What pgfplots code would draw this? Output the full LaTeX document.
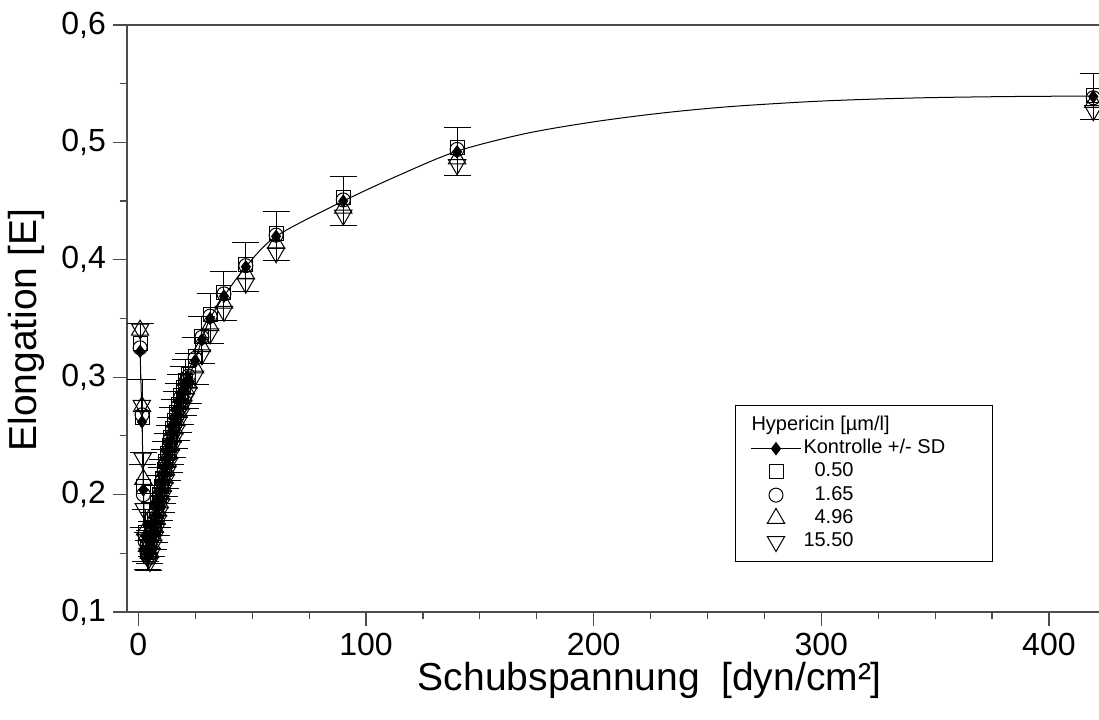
\documentclass[border=0pt]{standalone}
\usepackage{fontspec}
\setmainfont{Liberation Sans}
\usepackage{pgfplots}
\pgfplotsset{compat=1.18}
\usepackage{pgfplotstable}

\pgfplotstableread{
x y e
0.75 0.322 0.024
1.6 0.262 0.036
2.2 0.204 0.032
3.0 0.165 0.022
3.8 0.152 0.016
4.6 0.148 0.013
5.1 0.155 0.014
5.8 0.162 0.015
6.5 0.169 0.016
7.2 0.176 0.017
7.9 0.183 0.018
8.6 0.190 0.018
9.3 0.197 0.019
10.0 0.204 0.019
10.7 0.211 0.019
11.4 0.218 0.020
12.1 0.225 0.020
12.8 0.232 0.020
13.5 0.239 0.020
14.2 0.246 0.020
15.0 0.253 0.021
15.8 0.260 0.021
16.7 0.267 0.021
17.6 0.274 0.021
18.6 0.281 0.021
19.7 0.288 0.021
20.8 0.294 0.021
22.0 0.299 0.021
24.9 0.314 0.020
27.9 0.332 0.020
31.5 0.350 0.021
37.6 0.369 0.021
47.2 0.394 0.021
60.5 0.420 0.021
90.0 0.450 0.021
140.0 0.492 0.0205
419.5 0.539 0.0195
}\kontrolle

\pgfplotstableread{
x y
0.75 0.329
1.6 0.266
2.2 0.207
3.0 0.168
3.8 0.155
4.6 0.151
5.1 0.158
5.8 0.165
6.5 0.172
7.2 0.179
7.9 0.186
8.6 0.193
9.3 0.200
10.0 0.207
10.7 0.214
11.4 0.221
12.1 0.228
12.8 0.235
13.5 0.242
14.2 0.249
15.0 0.256
15.8 0.263
16.7 0.270
17.6 0.277
18.6 0.284
19.7 0.291
20.8 0.297
22.0 0.302
24.9 0.318
27.9 0.335
31.5 0.353
37.6 0.372
47.2 0.396
60.5 0.422
90.0 0.453
140.0 0.496
419.5 0.540
}\sqA

\pgfplotstableread{
x y
0.75 0.325
1.6 0.268
2.2 0.200
3.0 0.160
3.8 0.150
4.6 0.146
5.1 0.156
5.8 0.164
6.5 0.171
7.2 0.178
7.9 0.185
8.6 0.192
9.3 0.199
10.0 0.206
10.7 0.213
11.4 0.220
12.1 0.227
12.8 0.234
13.5 0.241
14.2 0.248
15.0 0.255
15.8 0.262
16.7 0.269
17.6 0.276
18.6 0.283
19.7 0.290
20.8 0.296
22.0 0.301
24.9 0.316
27.9 0.334
31.5 0.352
37.6 0.371
47.2 0.395
60.5 0.421
90.0 0.451
140.0 0.494
419.5 0.538
}\ciB

\pgfplotstableread{
x y
0.75 0.340
1.6 0.275
2.2 0.213
3.0 0.170
3.8 0.156
4.6 0.150
5.1 0.151
5.8 0.158
6.5 0.165
7.2 0.172
7.9 0.179
8.6 0.186
9.3 0.193
10.0 0.200
10.7 0.207
11.4 0.214
12.1 0.221
12.8 0.228
13.5 0.235
14.2 0.242
15.0 0.249
15.8 0.256
16.7 0.263
17.6 0.270
18.6 0.277
19.7 0.284
20.8 0.290
22.0 0.295
24.9 0.308
27.9 0.326
31.5 0.344
37.6 0.363
47.2 0.388
60.5 0.414
90.0 0.444
140.0 0.486
419.5 0.534
}\trC

\pgfplotstableread{
x y
0.8 0.341
1.5 0.276
1.9 0.231
2.4 0.188
3.2 0.162
4.0 0.150
4.8 0.146
5.1 0.143
5.8 0.150
6.5 0.157
7.2 0.164
7.9 0.171
8.6 0.178
9.3 0.185
10.0 0.192
10.7 0.199
11.4 0.206
12.1 0.213
12.8 0.220
13.5 0.227
14.2 0.234
15.0 0.241
15.8 0.248
16.7 0.255
17.6 0.262
18.6 0.269
19.7 0.276
20.8 0.282
22.0 0.287
24.9 0.301
27.9 0.319
31.5 0.337
37.6 0.356
47.2 0.380
60.5 0.406
90.0 0.438
140.0 0.481
419.5 0.527
}\trD

\begin{document}
\begin{tikzpicture}
\begin{axis}[
  scale only axis, width=486pt, height=293.5pt,
  xmin=-5, xmax=422, ymin=0.1, ymax=0.6,
  separate axis lines,
  axis x line*=box, axis y line*=left,
  axis line style={black!70, line width=0.75pt},
  xtick={0,100,200,300,400}, minor x tick num=3,
  ytick={0.1,0.2,0.3,0.4,0.5,0.6}, minor y tick num=1,
  xtick pos=bottom, ytick pos=left,
  tick align=outside,
  major tick length=7pt, minor tick length=3.5pt,
  every tick/.style={black!70, line width=0.6pt},
  /pgf/number format/assume math mode=true,
  tick label style={font=\fontsize{16}{19}\selectfont},
  yticklabel style={/pgf/number format/.cd, fixed, fixed zerofill, precision=1, use comma},
  xticklabel style={/pgf/number format/.cd, fixed},
  label style={font=\fontsize{19.5}{23}\selectfont},
  xlabel={Schubspannung\ \ [dyn/cm²]},
  ylabel={Elongation [E]},
  xlabel style={at={(axis description cs:0.538,-0.116)}, anchor=center},
  ylabel style={at={(axis description cs:-0.103,0.48)}, anchor=center},
  legend image code/.code={\draw[mark repeat=2,mark phase=2,#1] plot coordinates {(0pt,0pt) (12.5pt,0pt) (25pt,0pt)};},
  legend style={at={(0.6255,0.3526)}, anchor=north west, draw=black, line width=0.5pt,
    font=\fontsize{10}{12}\selectfont, inner xsep=7.5pt, inner ysep=5pt, row sep=1.6pt,
    cells={anchor=west},
    nodes={inner xsep=1pt, inner ysep=0pt, text height=7.5pt, text depth=2.5pt}},
  every axis plot/.append style={line width=0.5pt},
]
\addplot[black, smooth, forget plot] coordinates {
(0.75,0.322) (1.6,0.262) (2.2,0.204) (3.0,0.165) (3.8,0.152) (4.6,0.148)
(5.1,0.155) (5.8,0.162) (6.5,0.169) (7.2,0.176) (7.9,0.183) (8.6,0.190)
(9.3,0.197) (10.0,0.204) (10.7,0.211) (11.4,0.218) (12.1,0.225) (12.8,0.232)
(13.5,0.239) (14.2,0.246) (15.0,0.253) (15.8,0.260) (16.7,0.267) (17.6,0.274)
(18.6,0.281) (19.7,0.288) (20.8,0.294) (22.0,0.299) (24.9,0.314) (27.9,0.332)
(31.5,0.350) (37.6,0.369) (47.2,0.394) (60.5,0.420) (90.0,0.450) (115,0.4725)
(140,0.4925) (170,0.5075) (200,0.5175) (230,0.5250) (260,0.5305) (300,0.5352)
(340,0.5378) (380,0.5390) (419.5,0.5395)};
\addplot[black, only marks, mark=square, mark size=3.5pt, forget plot] table[x=x,y=y] {\sqA};
\addplot[black, only marks, mark=o, mark size=3.5pt, forget plot] table[x=x,y=y] {\ciB};
\addplot[black, only marks, mark=triangle, mark size=5pt, forget plot] table[x=x,y=y] {\trC};
\addplot[black, only marks, mark=triangle, mark size=5pt, mark options={rotate=180}, forget plot] table[x=x,y=y] {\trD};
\addplot[black, only marks, mark=diamond*, mark size=3pt, forget plot,
  error bars/.cd, y dir=both, y explicit,
  error bar style={black, line width=0.5pt},
  error mark options={rotate=90, mark size=6.75pt, black, line width=0.5pt}]
  table[x=x,y=y,y error=e] {\kontrolle};

\addlegendimage{empty legend}
\addlegendentry{\hspace*{-26pt}Hypericin [µm/l]}
\addlegendimage{black, mark=diamond*, mark size=3pt, line width=0.5pt}
\addlegendentry{Kontrolle +/- SD\hspace*{15pt}}
\addlegendimage{black, only marks, mark=square, mark size=3.5pt}
\addlegendentry{\phantom{1}0.50}
\addlegendimage{black, only marks, mark=o, mark size=3.5pt}
\addlegendentry{\phantom{1}1.65}
\addlegendimage{black, only marks, mark=triangle, mark size=5pt}
\addlegendentry{\phantom{1}4.96}
\addlegendimage{black, only marks, mark=triangle, mark size=5pt, mark options={rotate=180}}
\addlegendentry{15.50}
\end{axis}
\pgfresetboundingbox
\path[use as bounding box] ([shift={(-63.5pt,-54pt)}]current axis.south west) rectangle ([shift={(0pt,12.5pt)}]current axis.north east);
\end{tikzpicture}
\end{document}
